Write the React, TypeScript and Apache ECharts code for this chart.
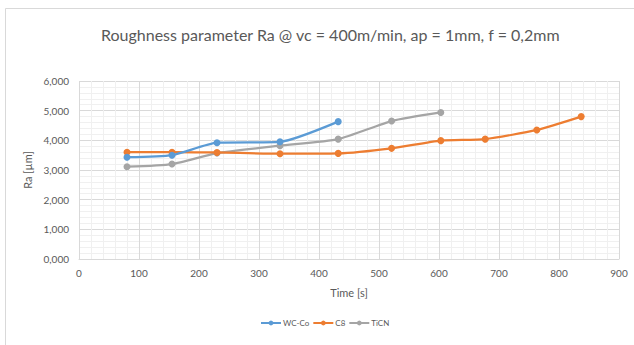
import React, { useEffect, useRef } from "react";
import * as echarts from "echarts";

const seriesNames = ["WC-Co", "C8", "TiCN"];
const wcTime = [80, 155, 230, 335, 432];
const wcRa = [3.43, 3.5, 3.92, 3.95, 4.63];
const c8Time = [80, 155, 230, 335, 432, 521, 603, 677, 763, 837];
const c8Ra = [3.6, 3.6, 3.59, 3.55, 3.56, 3.73, 3.99, 4.04, 4.35, 4.8];
const ticnTime = [80, 155, 230, 335, 432, 521, 603];
const ticnRa = [3.11, 3.2, 3.57, 3.82, 4.04, 4.65, 4.94];
const colors = ["#5B9BD5", "#ED7D31", "#A5A5A5"];

const FONT = "Lato";

export default function App() {
  const ref = useRef<HTMLDivElement>(null);
  useEffect(() => {
    if (!ref.current) return;
    const chart = echarts.init(ref.current, undefined, { renderer: "svg" });
    const pairs = (xs: number[], ys: number[]) => xs.map((x, i) => [x, ys[i]]);
    const data = [pairs(wcTime, wcRa), pairs(c8Time, c8Ra), pairs(ticnTime, ticnRa)];
    chart.setOption({
      animation: false,
      backgroundColor: "#ffffff",
      color: colors,
      textStyle: { fontFamily: FONT },
      title: {
        text: "Roughness parameter Ra @ vc = 400m/min, ap = 1mm, f = 0,2mm",
        left: 96,
        top: 21,
        textStyle: { fontFamily: FONT, fontSize: 16, fontWeight: "normal", color: "#595959" },
      },
      graphic: [
        {
          type: "rect",
          shape: { x: 5.5, y: 8.5, width: 640, height: 350 },
          style: { fill: "none", stroke: "#d9d9d9", lineWidth: 1 },
          silent: true,
        },
      ],
      legend: {
        data: seriesNames,
        bottom: 13,
        left: 255,
        itemWidth: 20,
        itemHeight: 6,
        itemGap: 3,
        textStyle: { fontFamily: FONT, fontSize: 8, color: "#595959", padding: [0, 0, 0, -3] },
      },
      grid: { left: 79, right: 15, top: 81, bottom: 86, containLabel: false },
      xAxis: {
        type: "value",
        min: 0,
        max: 900,
        interval: 100,
        name: "Time [s]",
        nameLocation: "middle",
        nameGap: 28,
        nameTextStyle: { fontFamily: FONT, fontSize: 11, color: "#595959" },
        axisLine: { show: true, lineStyle: { color: "#d9d9d9" } },
        axisTick: { show: false },
        axisLabel: { margin: 9, fontFamily: FONT, fontSize: 10, color: "#595959" },
        splitLine: { show: true, lineStyle: { color: "#d9d9d9" } },
        minorTick: { show: false, splitNumber: 5 },
        minorSplitLine: { show: true, lineStyle: { color: "#f0f0f0" } },
      },
      yAxis: {
        type: "value",
        min: 0,
        max: 6,
        interval: 1,
        name: "Ra [µm]",
        nameLocation: "middle",
        nameGap: 43,
        nameTextStyle: { fontFamily: FONT, fontSize: 11, color: "#595959" },
        axisLine: { show: false },
        axisTick: { show: false },
        axisLabel: {
          margin: 10,
          fontFamily: FONT,
          fontSize: 10,
          color: "#595959",
          formatter: (v: number) => v.toFixed(3).replace(".", ","),
        },
        splitLine: { show: true, lineStyle: { color: "#d9d9d9" } },
        minorTick: { show: false, splitNumber: 5 },
        minorSplitLine: { show: true, lineStyle: { color: "#f0f0f0" } },
      },
      series: seriesNames.map((name, i) => ({
        name,
        type: "line",
        data: data[i],
        smooth: 0.2,
        symbol: "circle",
        symbolSize: 7,
        lineStyle: { width: 2.25, color: colors[i] },
        itemStyle: { color: colors[i] },
        z: 3 - i,
      })),
    });
    return () => chart.dispose();
  }, []);
  return (
    <div
      ref={ref}
      style={{ position: "fixed", left: 0, top: 0, width: 634, height: 345 }}
    />
  );
}
